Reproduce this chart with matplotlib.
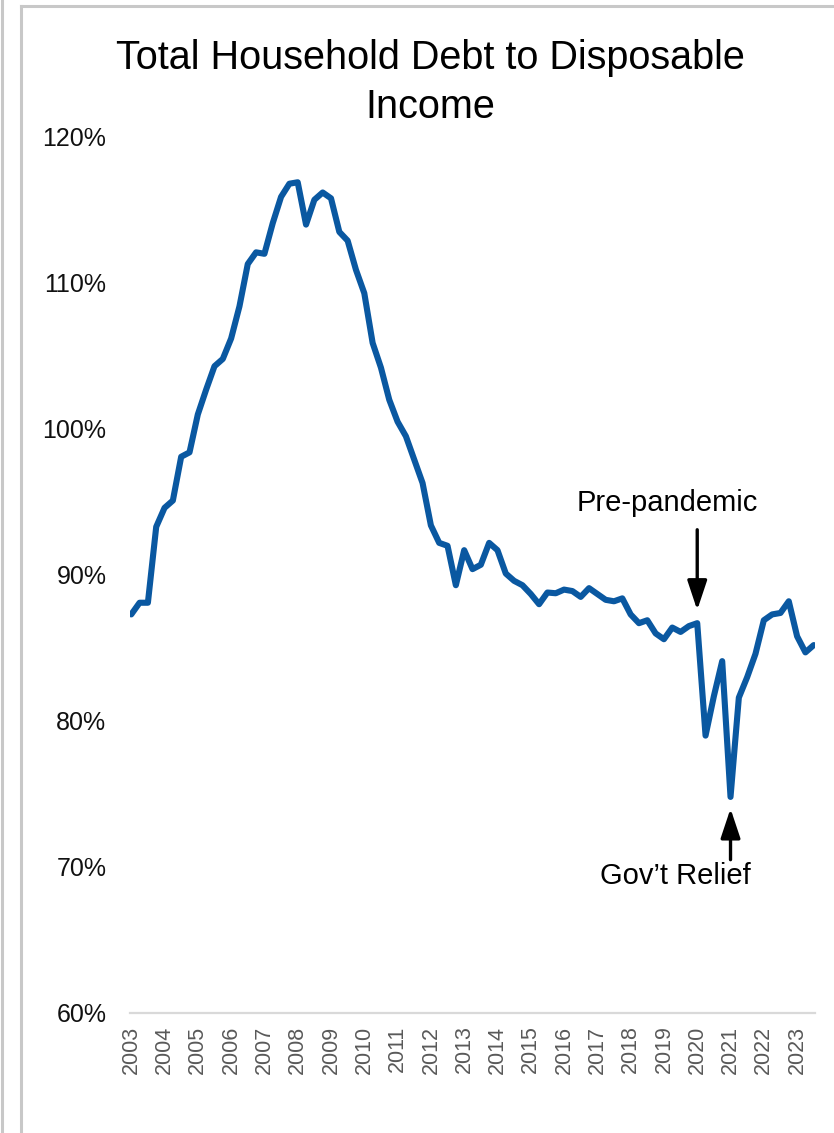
"""Total household debt to disposable income, quarterly 2003Q1-2023Q3."""

import matplotlib
matplotlib.use("Agg")
import matplotlib.pyplot as plt
from matplotlib.lines import Line2D
from matplotlib.ticker import FuncFormatter

plt.rcParams["font.family"] = ["Liberation Sans", "DejaVu Sans"]

# quarterly ratio (%), 2003 Q1 .. 2023 Q3
RATIO = [
    87.3, 88.1, 88.1, 93.3, 94.6, 95.1, 98.1, 98.4,
    101.0, 102.7, 104.3, 104.8, 106.2, 108.4, 111.3, 112.1,
    112.0, 114.1, 115.9, 116.8, 116.9, 114.0, 115.7, 116.2,
    115.8, 113.5, 112.9, 110.9, 109.3, 105.9, 104.2, 102.0,
    100.5, 99.5, 97.9, 96.3, 93.4, 92.2, 92.0, 89.3,
    91.7, 90.4, 90.7, 92.2, 91.7, 90.1, 89.6, 89.3,
    88.7, 88.0, 88.8, 88.75, 89.0, 88.9, 88.5, 89.1,
    88.7, 88.3, 88.2, 88.4, 87.3, 86.7, 86.9, 86.0,
    85.6, 86.4, 86.1, 86.5, 86.7, 79.0, 81.7, 84.1,
    74.8, 81.6, 83.0, 84.6, 86.9, 87.3, 87.4, 88.2,
    85.8, 84.7, 85.2,
]
YEARS = list(range(2003, 2024))
Y_TICKS = [60, 70, 80, 90, 100, 110, 120]

PRE_PANDEMIC_Q = 68   # 2020 Q1
RELIEF_Q = 72         # 2021 Q1

W, H = 834, 1133
fig = plt.figure(figsize=(W / 100, H / 100), dpi=100)
ax = fig.add_axes([130 / W, 1 - 1013 / H, (815 - 130) / W, (1013 - 137) / H])

ax.plot(range(len(RATIO)), RATIO, color="#0A58A1", lw=4.4,
        solid_joinstyle="round", solid_capstyle="round", zorder=3)

ax.set_xlim(-0.15, len(RATIO) - 0.85)
ax.set_ylim(60, 120)
ax.set_yticks(Y_TICKS)
ax.yaxis.set_major_formatter(FuncFormatter(lambda v, _: f"{v:.0f}%"))
ax.set_xticks([4 * i for i in range(len(YEARS))])
ax.set_xticklabels([str(y) for y in YEARS], rotation=90, fontsize=15.5,
                   color="#595959")
ax.tick_params(axis="y", labelsize=18, length=0, pad=17, labelcolor="#111111")
ax.tick_params(axis="x", length=0, pad=9)
for side in ("top", "right", "left"):
    ax.spines[side].set_visible(False)
ax.spines["bottom"].set_color("#d9d9d9")
ax.spines["bottom"].set_linewidth(1.6)

arrow = dict(arrowstyle="-|>,head_length=0.9,head_width=0.3",
             color="black", lw=2.4, mutation_scale=20, shrinkA=0, shrinkB=0)

ax.annotate("", xy=(PRE_PANDEMIC_Q, RATIO[PRE_PANDEMIC_Q] + 0.9),
            xytext=(PRE_PANDEMIC_Q, RATIO[PRE_PANDEMIC_Q] + 6.4),
            arrowprops=arrow)
ax.text(PRE_PANDEMIC_Q - 3.6, RATIO[PRE_PANDEMIC_Q] + 8.2, "Pre-pandemic",
        ha="center", va="center", fontsize=21, color="black")

ax.annotate("", xy=(RELIEF_Q, RATIO[RELIEF_Q] - 0.8),
            xytext=(RELIEF_Q, RATIO[RELIEF_Q] - 4.3),
            arrowprops=arrow)
ax.text(RELIEF_Q - 6.6, RATIO[RELIEF_Q] - 5.4, "Gov\u2019t Relief",
        ha="center", va="center", fontsize=21, color="black")

fig.text(430 / W, 1 - 58 / H, "Total Household Debt to Disposable",
         ha="center", va="center", fontsize=28.5)
fig.text(430 / W, 1 - 107 / H, "Income",
         ha="center", va="center", fontsize=28.5)

# chart frame edges as in the source screenshot
frame = "#c8c8c8"
fig.add_artist(Line2D([2 / W, 2 / W], [0, 1], color=frame, lw=2.2))
fig.add_artist(Line2D([21 / W, 21 / W], [0, 1 - 6 / H], color=frame, lw=2.2))
fig.add_artist(Line2D([21 / W, 1], [1 - 6 / H, 1 - 6 / H], color=frame, lw=2.2))

fig.savefig("out.png", dpi=100)
